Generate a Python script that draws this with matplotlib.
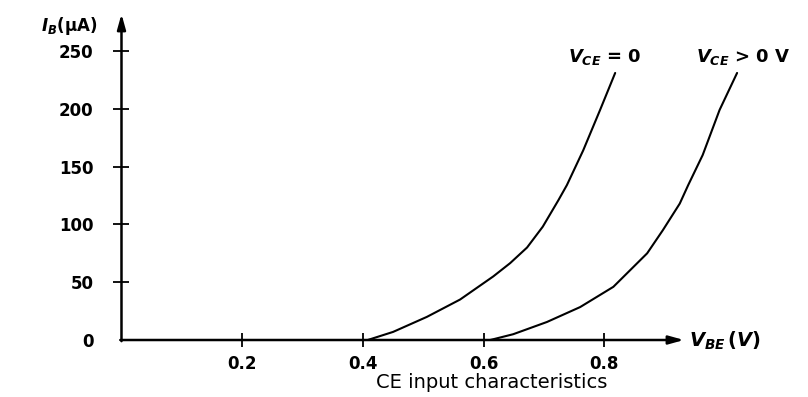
import matplotlib
matplotlib.use("Agg")
import matplotlib.pyplot as plt

# Data
vbe_ce0 = [0.408, 0.450, 0.506, 0.561, 0.616, 0.644, 0.672, 0.698, 0.724, 0.738, 0.765, 0.793, 0.818]
ib_ce0 = [0, 7, 20, 35, 55, 66.5, 80, 98, 121, 134, 164, 199, 231]
vbe_cepos = [0.611, 0.649, 0.705, 0.760, 0.815, 0.871, 0.897, 0.925, 0.939, 0.963, 0.991, 1.020]
ib_cepos = [0, 5, 15.6, 28.5, 46, 75, 95, 118, 134, 160, 199, 231]
xticks = [0.2, 0.4, 0.6, 0.8]
xticklabels = ["0.2", "0.4", "0.6", "0.8"]
yticks = [0, 50, 100, 150, 200, 250]
yticklabels = ["0", "50", "100", "150", "200", "250"]

plt.rcParams['mathtext.fontset'] = 'custom'
plt.rcParams['mathtext.it'] = 'DejaVu Sans:italic:bold'
plt.rcParams['mathtext.rm'] = 'DejaVu Sans:bold'
plt.rcParams['mathtext.bf'] = 'DejaVu Sans:bold'

fig = plt.figure(figsize=(8.08, 3.97), dpi=100)
ax = fig.add_axes([0, 0, 1, 1])
ax.set_xlim(-0.2013, 1.1375)
ax.set_ylim(-49.3, 294.1)

for s in ['top', 'right']:
    ax.spines[s].set_visible(False)
for s in ['left', 'bottom']:
    ax.spines[s].set_position(('data', 0))
    ax.spines[s].set_visible(False)

ax.plot(vbe_ce0, ib_ce0, color='black', lw=1.5, solid_capstyle='round', solid_joinstyle='round')
ax.plot(vbe_cepos, ib_cepos, color='black', lw=1.5, solid_capstyle='round', solid_joinstyle='round')

# axis lines with arrows
ax.annotate('', xy=(0.932, 0), xytext=(-0.002, 0),
            arrowprops=dict(arrowstyle='-|>,head_length=0.9,head_width=0.25', color='black', lw=1.8,
                            shrinkA=0, shrinkB=0))
ax.annotate('', xy=(0, 282), xytext=(0, -1),
            arrowprops=dict(arrowstyle='-|>,head_length=0.9,head_width=0.25', color='black', lw=1.8,
                            shrinkA=0, shrinkB=0))

ax.set_xticks(xticks)
ax.set_xticklabels(xticklabels, fontsize=12, fontweight='bold', family='DejaVu Sans')
ax.set_yticks(yticks)
ax.set_yticklabels(yticklabels, fontsize=12, fontweight='bold', family='DejaVu Sans')
ax.tick_params(axis='x', direction='inout', length=10, width=1.3, pad=6)
ax.tick_params(axis='y', direction='inout', length=12, width=1.3, pad=14)
ax.yaxis.get_major_ticks()[0].tick1line.set_visible(False)

ax.text(-0.040, 272, r'$I_B$(μA)', fontsize=12, fontweight='bold', ha='right', va='center',
        family='DejaVu Sans')
ax.text(0.80, 245, r'$V_{CE}$ = 0', fontsize=13, ha='center', va='center', fontweight='bold')
ax.text(1.031, 245, r'$V_{CE}$ > 0 V', fontsize=13, ha='center', va='center', fontweight='bold')
ax.text(0.940, -1, r'$V_{BE}\,(V)$', fontsize=14, ha='left', va='center')
ax.text(0.613, -37, 'CE input characteristics', fontsize=14, ha='center', va='center',
        family='DejaVu Sans')

fig.savefig('out.png', dpi=100)
